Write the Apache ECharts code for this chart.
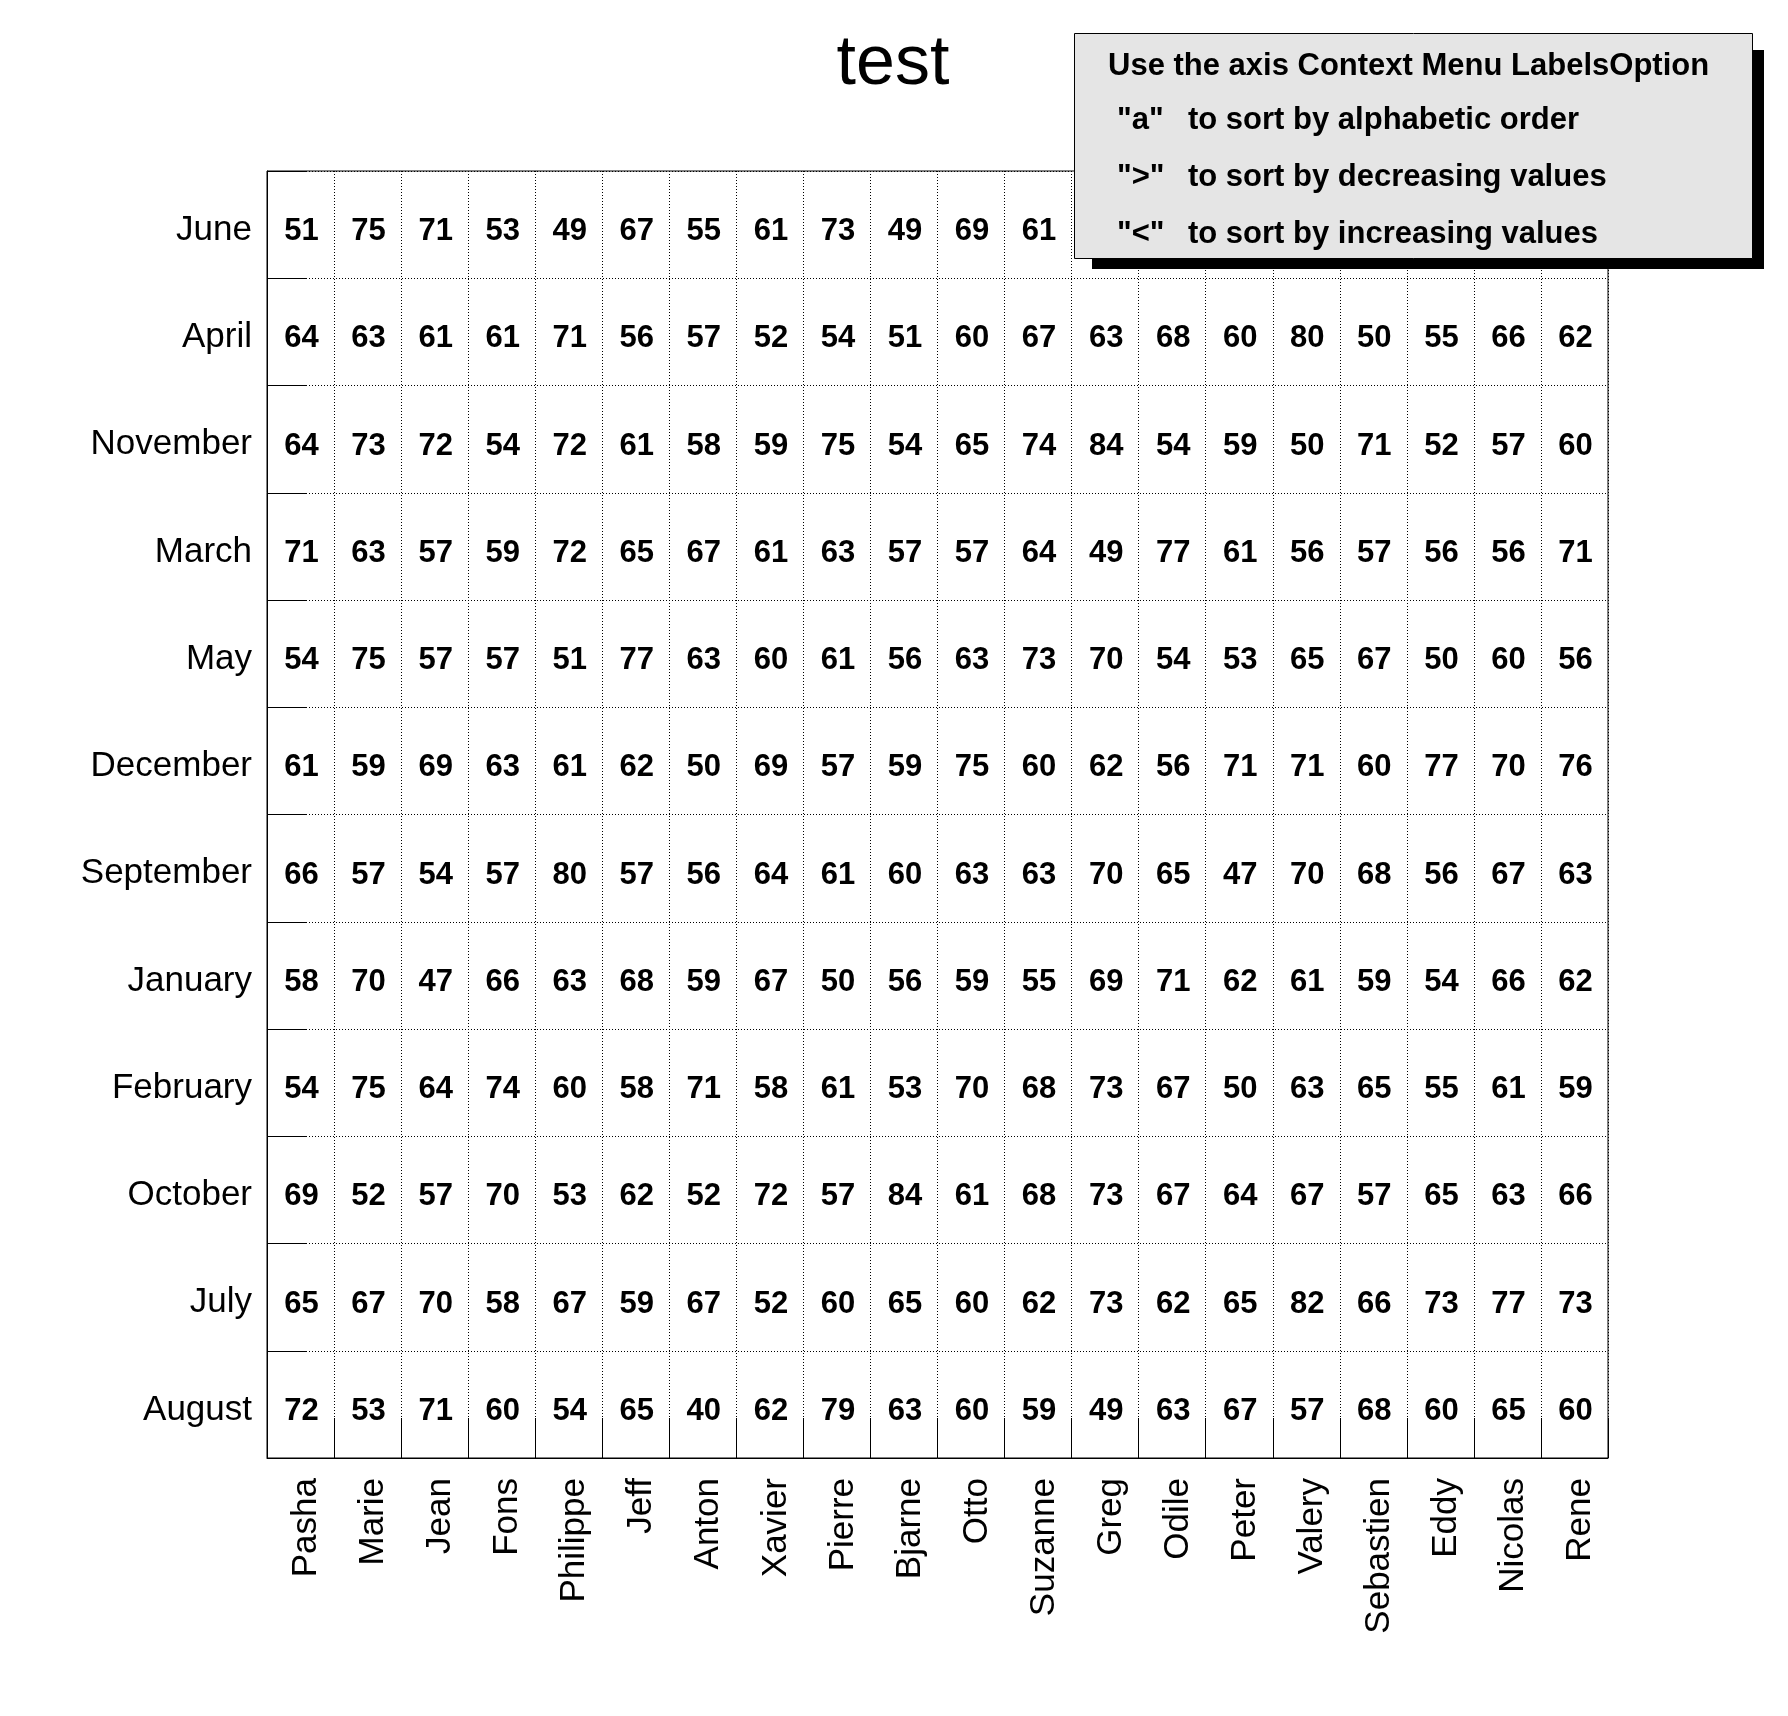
<!DOCTYPE html>
<html>
<head>
<meta charset="utf-8">
<title>test</title>
<script src="https://cdn.jsdelivr.net/npm/echarts@6/dist/echarts.min.js"></script>
<style>
  html, body { margin: 0; padding: 0; background: #fff; }
  #chart { width: 1788px; height: 1716px; }
</style>
</head>
<body>
<div id="chart"></div>
<script>
'use strict';

// rows, top to bottom
var months = ['June', 'April', 'November', 'March', 'May', 'December',
  'September', 'January', 'February', 'October', 'July', 'August'];

var names = ['Pasha', 'Marie', 'Jean', 'Fons', 'Philippe', 'Jeff', 'Anton',
  'Xavier', 'Pierre', 'Bjarne', 'Otto', 'Suzanne', 'Greg', 'Odile', 'Peter',
  'Valery', 'Sebastien', 'Eddy', 'Nicolas', 'Rene'];

// one array per row, one value per name; null where the help box hides the cell
var june      = [51, 75, 71, 53, 49, 67, 55, 61, 73, 49, 69, 61, null, null, null, null, null, null, null, null];
var april     = [64, 63, 61, 61, 71, 56, 57, 52, 54, 51, 60, 67, 63, 68, 60, 80, 50, 55, 66, 62];
var november  = [64, 73, 72, 54, 72, 61, 58, 59, 75, 54, 65, 74, 84, 54, 59, 50, 71, 52, 57, 60];
var march     = [71, 63, 57, 59, 72, 65, 67, 61, 63, 57, 57, 64, 49, 77, 61, 56, 57, 56, 56, 71];
var may       = [54, 75, 57, 57, 51, 77, 63, 60, 61, 56, 63, 73, 70, 54, 53, 65, 67, 50, 60, 56];
var december  = [61, 59, 69, 63, 61, 62, 50, 69, 57, 59, 75, 60, 62, 56, 71, 71, 60, 77, 70, 76];
var september = [66, 57, 54, 57, 80, 57, 56, 64, 61, 60, 63, 63, 70, 65, 47, 70, 68, 56, 67, 63];
var january   = [58, 70, 47, 66, 63, 68, 59, 67, 50, 56, 59, 55, 69, 71, 62, 61, 59, 54, 66, 62];
var february  = [54, 75, 64, 74, 60, 58, 71, 58, 61, 53, 70, 68, 73, 67, 50, 63, 65, 55, 61, 59];
var october   = [69, 52, 57, 70, 53, 62, 52, 72, 57, 84, 61, 68, 73, 67, 64, 67, 57, 65, 63, 66];
var july      = [65, 67, 70, 58, 67, 59, 67, 52, 60, 65, 60, 62, 73, 62, 65, 82, 66, 73, 77, 73];
var august    = [72, 53, 71, 60, 54, 65, 40, 62, 79, 63, 60, 59, 49, 63, 67, 57, 68, 60, 65, 60];

var helpTitle = 'Use the axis Context Menu LabelsOption';
var helpKeys = ['"a"', '">"', '"<"'];
var helpTexts = ['to sort by alphabetic order', 'to sort by decreasing values', 'to sort by increasing values'];

var FONT = "'Liberation Sans', Arial, Helvetica, sans-serif";

function buildCells(rows) {
  var cells = [];
  rows.forEach(function (row, y) {
    row.forEach(function (v, x) {
      if (v !== null) {
        cells.push([x, y, v]);
      }
    });
  });
  return cells;
}

function helpBox() {
  var rowY = [120, 177, 234];
  var items = [
    // shadow then box
    {type: 'rect', z: 100, shape: {x: 1092, y: 50, width: 672, height: 219}, style: {fill: '#000'}},
    {type: 'rect', z: 101, shape: {x: 1074.5, y: 33.5, width: 678, height: 225},
      style: {fill: '#e5e5e5', stroke: '#000', lineWidth: 1}},
    {type: 'text', z: 102, x: 1108, y: 66,
      style: {text: helpTitle, font: 'bold 31px ' + FONT, fill: '#000', verticalAlign: 'middle'}}
  ];
  helpKeys.forEach(function (k, i) {
    items.push({type: 'text', z: 102, x: 1117, y: rowY[i],
      style: {text: k, font: 'bold 31px ' + FONT, fill: '#000', verticalAlign: 'middle'}});
    items.push({type: 'text', z: 102, x: 1188, y: rowY[i],
      style: {text: helpTexts[i], font: 'bold 31px ' + FONT, fill: '#000', verticalAlign: 'middle'}});
  });
  return items;
}

// rich segment with top padding: nudges the axis text down (or right when rotated)
function nudged(value) {
  return '{n|' + value + '}';
}

var dotted = {type: [1, 2], color: '#000', width: 1};

var chart = echarts.init(document.getElementById('chart'));
chart.setOption({
  animation: false,
  backgroundColor: '#fff',
  title: {
    text: 'test',
    left: 893,
    top: 30,
    padding: 0,
    textAlign: 'center',
    textStyle: {fontFamily: FONT, fontSize: 70, fontWeight: 'normal', color: '#000'}
  },
  grid: {
    left: 267, right: 180, top: 171, bottom: 258,
    show: true, borderColor: '#000', borderWidth: 1, backgroundColor: 'transparent'
  },
  xAxis: {
    type: 'category',
    data: names,
    axisLine: {show: true, lineStyle: {color: '#000', width: 1}},
    axisTick: {show: true, inside: true, length: 40, interval: 0, lineStyle: {color: '#000', width: 1}},
    axisLabel: {
      interval: 0, rotate: 90, margin: 20, formatter: nudged,
      rich: {n: {padding: [12, 0, 0, 0], fontFamily: FONT, fontSize: 35, color: '#000'}}
    },
    splitLine: {show: true, interval: 0, lineStyle: dotted}
  },
  yAxis: {
    type: 'category',
    data: months,
    inverse: true,
    axisLine: {show: true, lineStyle: {color: '#000', width: 1}},
    axisTick: {show: true, inside: true, length: 40, interval: 0, lineStyle: {color: '#000', width: 1}},
    axisLabel: {
      interval: 0, margin: 15, formatter: nudged,
      rich: {n: {padding: [11, 0, 0, 0], fontFamily: FONT, fontSize: 35, color: '#000'}}
    },
    splitLine: {show: true, interval: 0, lineStyle: dotted}
  },
  series: [{
    type: 'scatter',
    silent: true,
    symbolSize: 1,
    itemStyle: {color: 'rgba(0,0,0,0)'},
    label: {
      show: true,
      position: 'inside',
      offset: [1, 7],
      fontFamily: FONT,
      fontSize: 31,
      fontWeight: 'bold',
      color: '#000',
      opacity: 1,
      textBorderWidth: 0,
      textBorderColor: 'transparent',
      formatter: function (p) { return p.value[2]; }
    },
    data: buildCells([june, april, november, march, may, december,
      september, january, february, october, july, august])
  }],
  graphic: helpBox()
});
</script>
</body>
</html>
